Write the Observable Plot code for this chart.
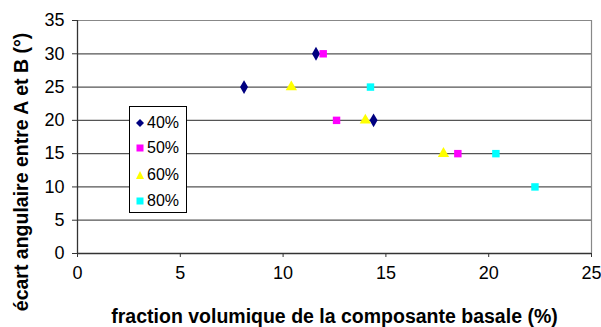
<!DOCTYPE html>
<html>
<head>
<meta charset="utf-8">
<script src="https://cdn.jsdelivr.net/npm/d3@7"></script>
<script src="https://cdn.jsdelivr.net/npm/@observablehq/plot@0.6"></script>
<style>
  html, body { margin: 0; padding: 0; background: white; }
  #wrap { position: relative; width: 601px; height: 327px; }
  #legend { position: absolute; left: 129px; top: 106px; width: 58px; height: 107px;
    border: 1px solid #000; background: white; font-family: "Liberation Sans", Arial, sans-serif; font-size: 16px; box-sizing: border-box; }
  .item { position: absolute; left: 0; height: 18px; display: flex; align-items: center; }
  .item svg { margin-left: 6px; margin-right: 3px; }
</style>
</head>
<body>
<div id="wrap"></div>
<script>
const seriesNames = ["40%", "50%", "60%", "80%"];
const seriesColors = ["#000080", "#FF00FF", "#FFFF00", "#00FFFF"];
const seriesSymbols = ["diamond", "square", "triangle", "square"];
const x40 = [8.1, 11.6, 14.4];
const y40 = [25, 30, 20];
const x50 = [11.95, 12.6, 18.5];
const y50 = [30, 20, 15];
const x60 = [10.4, 14.0, 17.8];
const y60 = [25, 20, 15];
const x80 = [14.25, 20.35, 22.25];
const y80 = [25, 15, 10];
const xTicks = [0, 5, 10, 15, 20, 25];
const yTicks = [0, 5, 10, 15, 20, 25, 30, 35];
const xTitle = "fraction volumique de la composante basale (%)";
const yTitle = "écart angulaire entre A et B (°)";

const xs = [x40, x50, x60, x80];
const ys = [y40, y50, y60, y80];
const data = [];
seriesNames.forEach((s, i) => xs[i].forEach((v, j) => data.push({series: s, x: v, y: ys[i][j], idx: i})));

const font = "Liberation Sans, Arial, sans-serif";
const chart = Plot.plot({
  width: 601, height: 327,
  marginLeft: 77, marginRight: 10, marginTop: 20, marginBottom: 74,
  x: {domain: [0, 25]},
  y: {domain: [0, 35]},
  style: {fontFamily: font, fontSize: "18px", background: "white", color: "black", overflow: "visible"},
  marks: [
    Plot.gridY(yTicks.filter(v => v > 0 && v < 35), {stroke: "#555", strokeOpacity: 1, strokeWidth: 1.2}),
    Plot.ruleY([35], {stroke: "#888", strokeWidth: 1.2}),
    Plot.ruleX([25], {stroke: "#888", strokeWidth: 1.2}),
    Plot.ruleY([0], {stroke: "#333", strokeWidth: 1.3}),
    Plot.ruleX([0], {stroke: "#333", strokeWidth: 1.3}),
    Plot.axisX({ticks: xTicks, tickSize: 4, tickPadding: 9, label: null, stroke: "#333"}),
    Plot.axisY({ticks: yTicks, tickSize: 5, tickPadding: 8, label: null, stroke: "#333"}),
    ...seriesNames.map((s, i) => Plot.dot(data.filter(d => d.idx === i), {
      x: "x", y: "y", symbol: () => seriesSymbols[i], fill: seriesColors[i], stroke: "none", r: 4.2
    })),
    Plot.text([xTitle], {frameAnchor: "bottom", dy: 69, fontWeight: "bold", fontSize: 19.5}),
    Plot.text([yTitle], {frameAnchor: "left", textAnchor: "middle", dx: -56, dy: 35, rotate: -90, fontWeight: "bold", fontSize: 19.5})
  ]
});
const wrap = document.getElementById("wrap");
wrap.appendChild(chart);

const legend = document.createElement("div");
legend.id = "legend";
const shapes = {
  diamond: c => `<polygon points="4,0 8,4 4,8 0,4" fill="${c}"/>`,
  square: c => `<rect x="0.5" y="0.5" width="7" height="7" fill="${c}"/>`,
  triangle: c => `<polygon points="4,0 8,8 0,8" fill="${c}"/>`
};
const tops = [7, 32, 59, 85];
seriesNames.forEach((s, i) => {
  const it = document.createElement("div");
  it.className = "item";
  it.style.top = tops[i] + "px";
  it.innerHTML = `<svg width="8" height="8">${shapes[seriesSymbols[i]](seriesColors[i])}</svg><span>${s}</span>`;
  legend.appendChild(it);
});
wrap.appendChild(legend);
</script>
</body>
</html>
